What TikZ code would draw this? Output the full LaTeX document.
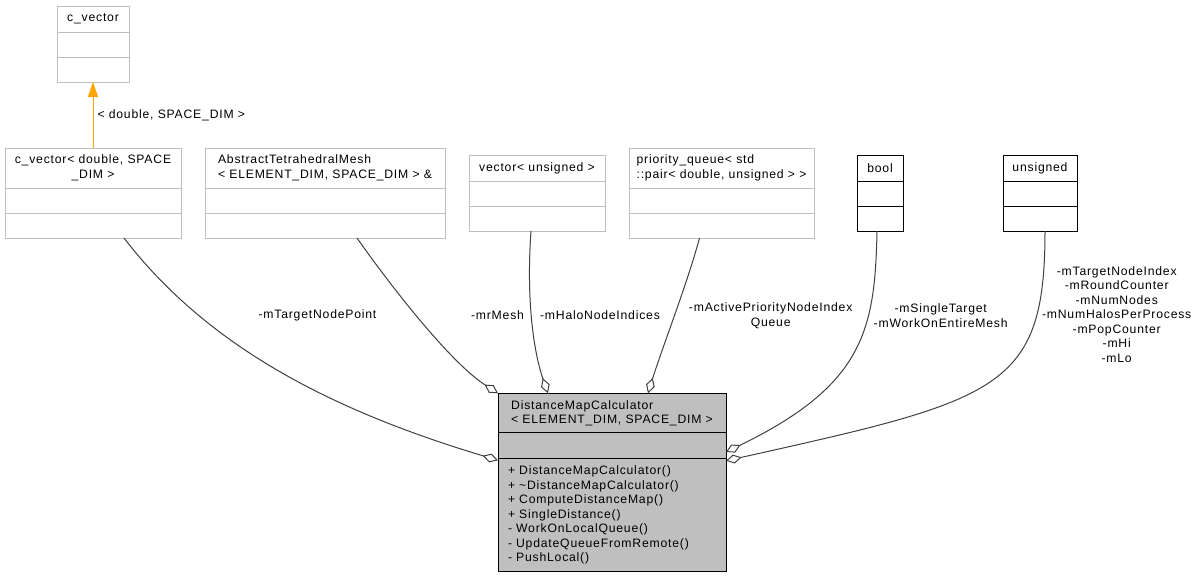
\documentclass[tikz,border=0pt]{standalone}
\usepackage{fontspec}
\setmainfont{Liberation Sans}[LetterSpace=6.5]
\usepackage{tikz}
\usetikzlibrary{arrows.meta,positioning,calc}

\definecolor{lightframe}{HTML}{BFBFBF}
\definecolor{edgegray}{HTML}{404040}
\definecolor{dmcgray}{HTML}{BFBFBF}
\definecolor{tmplorange}{HTML}{FFA500}

\begin{document}
\begin{tikzpicture}[
  x=1pt, y=-1pt, font=\fontsize{12.2}{14.5}\selectfont,
  part/.style={draw=lightframe, line width=1pt, fill=white, inner sep=0pt, outer sep=0pt, minimum width=#1},
  hdr/.style={part=#1, anchor=north west, align=center},
  slot/.style={part=#1, minimum height=25pt},
  strong/.style={draw=black},
  mainbox/.style={draw=black, fill=dmcgray},
  member/.style={draw=edgegray, line width=1pt, -{Diamond[open, length=16pt, width=9pt]}},
  tmpl/.style={draw=tmplorange, line width=1pt, -{Triangle[length=15pt, width=10pt]}},
  lbl/.style={align=center, inner sep=0pt}]
  \useasboundingbox (0,0) rectangle (1195,579);

  % template base
  \node[hdr=72pt, minimum height=26pt] (cvec) at (57,6) {c\_vector};
  \node[slot=72pt, below=0pt of cvec] (cvec-attr) {};
  \node[slot=72pt, below=0pt of cvec-attr] (cvec-ops) {};

  % member types
  \node[hdr=176pt, minimum height=40pt] (cvecdbl) at (5,148) {c\_vector< double, SPACE\\\_DIM >};
  \node[slot=176pt, below=0pt of cvecdbl] (cvecdbl-attr) {};
  \node[slot=176pt, below=0pt of cvecdbl-attr] (cvecdbl-ops) {};

  \node[hdr=240pt, minimum height=40pt, align=left] (mesh) at (205,148) {AbstractTetrahedralMesh\\< ELEMENT\_DIM, SPACE\_DIM > \&};
  \node[slot=240pt, below=0pt of mesh] (mesh-attr) {};
  \node[slot=240pt, below=0pt of mesh-attr] (mesh-ops) {};

  \node[hdr=136pt, minimum height=26pt] (halo) at (469,155) {vector< unsigned >};
  \node[slot=136pt, below=0pt of halo] (halo-attr) {};
  \node[slot=136pt, below=0pt of halo-attr] (halo-ops) {};

  \node[hdr=185pt, minimum height=40pt, align=left] (pq) at (629,148) {priority\_queue< std\\::pair< double, unsigned > >};
  \node[slot=185pt, below=0pt of pq] (pq-attr) {};
  \node[slot=185pt, below=0pt of pq-attr] (pq-ops) {};

  \node[hdr=46pt, strong, minimum height=26pt] (boolcls) at (857,155) {bool};
  \node[slot=46pt, strong, below=0pt of boolcls] (boolcls-attr) {};
  \node[slot=46pt, strong, below=0pt of boolcls-attr] (boolcls-ops) {};

  \node[hdr=74pt, strong, minimum height=26pt] (unsignedcls) at (1003,155) {unsigned};
  \node[slot=74pt, strong, below=0pt of unsignedcls] (unsignedcls-attr) {};
  \node[slot=74pt, strong, below=0pt of unsignedcls-attr] (unsignedcls-ops) {};

  % the calculator
  \node[hdr=228pt, mainbox, minimum height=39.5pt, align=left] (dmc) at (498,393.3) {DistanceMapCalculator\\< ELEMENT\_DIM, SPACE\_DIM >};
  \node[slot=228pt, mainbox, minimum height=25.5pt, below=0pt of dmc] (dmc-attr) {};
  \node[part=228pt, mainbox, minimum height=113.5pt, below=0pt of dmc-attr,
        text width=208pt, inner xsep=10pt, align=left] (dmc-ops)
    {+ DistanceMapCalculator()\\+ \textasciitilde DistanceMapCalculator()\\+ ComputeDistanceMap()\\+ SingleDistance()\\- WorkOnLocalQueue()\\- UpdateQueueFromRemote()\\- PushLocal()};

  \draw[tmpl] (cvecdbl.north) -- node[right, inner sep=4pt] (lbl-tmpl) {< double, SPACE\_DIM >} (cvec-ops.south);

  \draw[member] ([xshift=31pt]cvecdbl-ops.south) .. controls +(86,112) and +(-160,-48) .. ([yshift=-2pt]dmc-attr.south west);
  \draw[member] ([xshift=32pt]mesh-ops.south) .. controls +(33,47) and +(-48,-31) .. (dmc.north west);
  \draw[member] ([xshift=-6pt]halo-ops.south) .. controls +(-5,70) and +(-14,-40) .. ([xshift=50pt]dmc.north west);
  \draw[member] ([xshift=-22pt]pq-ops.south) .. controls +(-12,45) and +(14,-45) .. ([xshift=150pt]dmc.north west);
  \draw[member] ([xshift=-3pt]boolcls-ops.south) .. controls +(-2,99) and +(138,-67) .. ([yshift=-6.5pt]dmc-attr.east);
  \draw[member] ([xshift=5pt]unsignedcls-ops.south) .. controls +(0,159) and +(273,-61) .. ([yshift=-2.5pt]dmc-attr.south east);

  \node[lbl] (lbl-target) at (317.5,315) {-mTargetNodePoint};
  \node[lbl] (lbl-mesh) at (497.5,315) {-mrMesh};
  \node[lbl] (lbl-halo) at (600,315) {-mHaloNodeIndices};
  \node[lbl] (lbl-pq) at (770.7,315.5) {-mActivePriorityNodeIndex\\Queue};
  \node[lbl] (lbl-bool) at (940.7,315.5) {-mSingleTarget\\-mWorkOnEntireMesh};
  \node[lbl] (lbl-unsigned) at (1116.7,314.3) {-mTargetNodeIndex\\-mRoundCounter\\-mNumNodes\\-mNumHalosPerProcess\\-mPopCounter\\-mHi\\-mLo};
\end{tikzpicture}
\end{document}
